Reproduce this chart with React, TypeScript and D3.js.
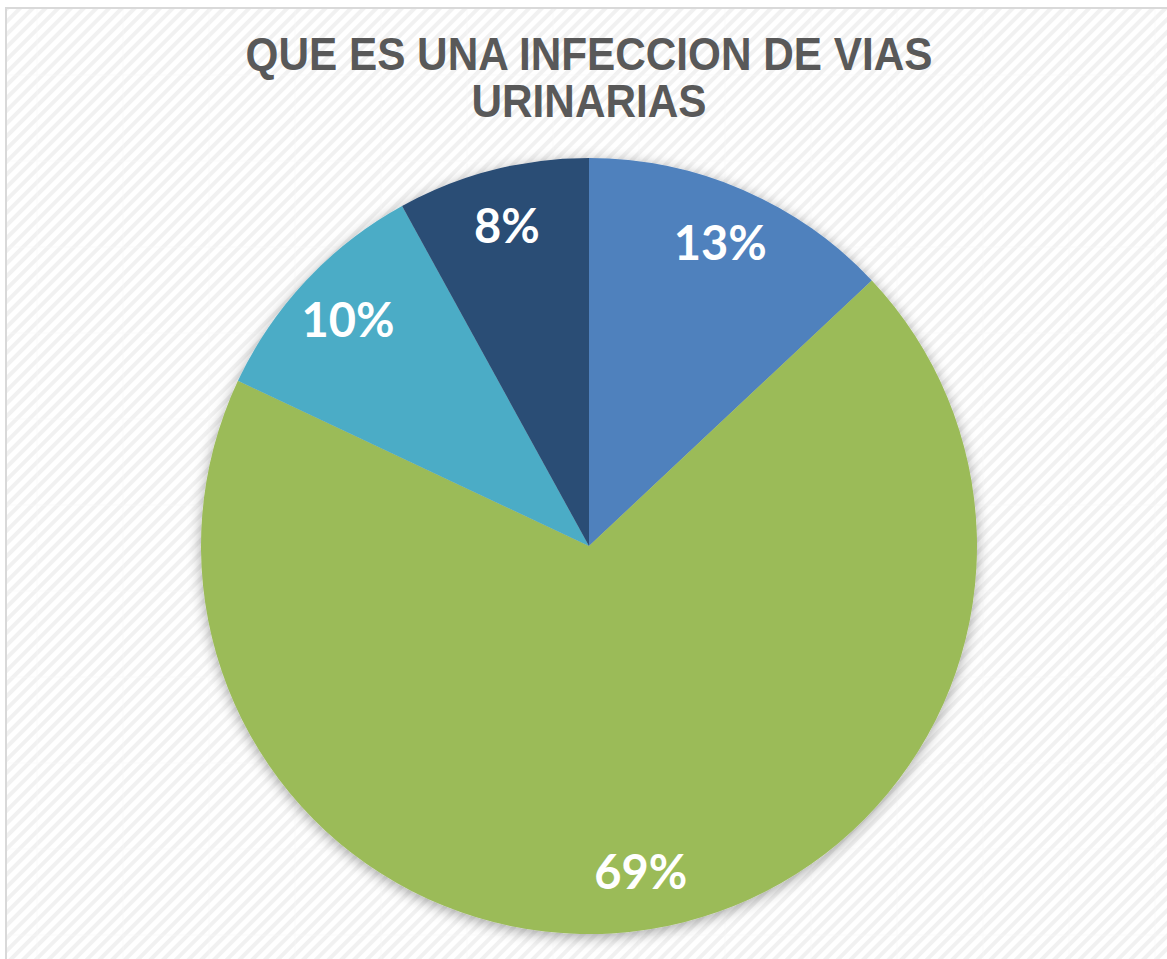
import React from "react";
import * as d3 from "d3";

const categories = ["A", "B", "C", "D"];
const values = [13, 69, 10, 8];
const labels = ["13%", "69%", "10%", "8%"];
const colors = ["#4F81BD", "#9BBB59", "#4BACC6", "#2C4D75"];
const titleLines = ["QUE ES UNA INFECCION DE VIAS", "URINARIAS"];

const W = 1167;
const H = 959;

export default function App() {
  const cx = 589;
  const cy = 546;
  const r = 388;
  const pie = d3.pie<number>().sort(null).value((d) => d);
  const arcs = pie(values);
  const arcGen = d3.arc<d3.PieArcDatum<number>>().innerRadius(0).outerRadius(r);
  const labelArc = d3.arc<d3.PieArcDatum<number>>().innerRadius(r * 0.852).outerRadius(r * 0.852);

  const gridX = d3.range(37, W, 86);
  const gridY = d3.range(75, H, 86);

  return (
    <svg
      width={W}
      height={H}
      style={{ position: "absolute", left: 0, top: 0, display: "block" }}
    >
      <defs>
        <pattern id="stripes" width="9" height="9" patternUnits="userSpaceOnUse" patternTransform="rotate(45)">
          <rect width="9" height="9" fill="#ffffff" />
          <rect x="0" width="4" height="9" fill="#f1f1f1" />
        </pattern>
        <filter id="shadow" x="-20%" y="-20%" width="140%" height="140%">
          <feDropShadow dx="0" dy="3" stdDeviation="7" floodColor="#000" floodOpacity="0.35" />
        </filter>
      </defs>
      <rect x={0} y={0} width={W} height={H} fill="#ffffff" />
      <rect x={6} y={8} width={W + 10} height={H + 10} fill="url(#stripes)" stroke="#d9d9d9" strokeWidth={2} />
      <g opacity={0.5}>
        {gridX.map((x) => (
          <line key={"gx" + x} x1={x} x2={x} y1={9} y2={H} stroke="#f7f7f7" strokeWidth={1} />
        ))}
        {gridY.map((y) => (
          <line key={"gy" + y} x1={7} x2={W} y1={y} y2={y} stroke="#f7f7f7" strokeWidth={1} />
        ))}
      </g>
      <g fontFamily="'Liberation Sans', Arial, sans-serif" fontWeight="bold" fontSize={47} fill="#595959" textAnchor="middle">
        {titleLines.map((t, i) => (
          <text key={t} transform={`translate(${cx},${70 + i * 47}) scale(0.9,1)`} x={0} y={0}>
            {t}
          </text>
        ))}
      </g>
      <g transform={`translate(${cx},${cy})`}>
        <g filter="url(#shadow)">
          {arcs.map((a, i) => (
            <path key={categories[i]} d={arcGen(a) || ""} fill={colors[i]} />
          ))}
        </g>
        <g fontFamily="Lato, 'Open Sans', sans-serif" fontWeight="bold" fontSize={47} fill="#ffffff" textAnchor="middle">
          {arcs.map((a, i) => {
            const [x, y] = labelArc.centroid(a);
            return (
              <text key={"l" + i} x={x} y={y} dy="0.36em">
                {labels[i]}
              </text>
            );
          })}
        </g>
      </g>
    </svg>
  );
}
